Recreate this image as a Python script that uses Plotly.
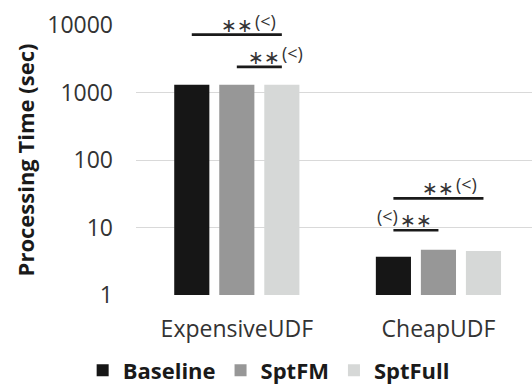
import math
import plotly.graph_objects as go

# Processing time per workload and execution strategy
categories = ["ExpensiveUDF", "CheapUDF"]
series_names = ["Baseline", "SptFM", "SptFull"]
baseline = [1300, 3.7]
sptfm = [1300, 4.7]
sptfull = [1300, 4.5]
series_values = [baseline, sptfm, sptfull]
colors = ["#161616", "#979797", "#d6d8d7"]

y_ticks = [1, 10, 100, 1000, 10000]
y_tick_labels = ["1", "10", "100", "1000", "10000"]

# Significance brackets: category, first bar, last bar, bracket height (sec)
bracket_cat = [0, 0, 1, 1]
bracket_from = [0, 1, 0, 0]
bracket_to = [2, 2, 2, 1]
bracket_level = [7200, 2400, 27, 9.1]
# star label centre (as bar-slot offset) and side of the "(<)" note
star_slot = [0.0, 0.6, 0.0, -0.5]
note_side = ["right", "right", "right", "left"]

BARGAP = 0.33
GROUPGAP = 0.22
slot = (1 - BARGAP) / len(series_names)

text_color = "#333333"
font_main = "Open Sans"

fig = go.Figure()
for name, vals, col in zip(series_names, series_values, colors):
    fig.add_trace(go.Bar(
        x=categories, y=vals, name=name,
        marker=dict(color=col, line=dict(width=0)),
    ))

shapes = []
annotations = []
for c, i0, i1, lvl, s, side in zip(bracket_cat, bracket_from, bracket_to,
                                   bracket_level, star_slot, note_side):
    x0 = c + (i0 - 1) * slot
    x1 = c + (i1 - 1) * slot
    # shapes take data values on a log axis, annotations take log10 values
    shapes.append(dict(type="line", xref="x", yref="y", x0=x0, x1=x1,
                       y0=lvl, y1=lvl, line=dict(color="#1a1a1a", width=2.7)))
    ly = math.log10(lvl)
    sx = c + s * slot
    annotations.append(dict(
        x=sx, y=ly, xref="x", yref="y", text="∗∗", showarrow=False,
        xanchor="center", yanchor="middle", yshift=10,
        font=dict(family="DejaVu Sans", size=19, color=text_color)))
    annotations.append(dict(
        x=sx, y=ly, xref="x", yref="y", text="(<)", showarrow=False,
        xanchor="left" if side == "right" else "right",
        xshift=16 if side == "right" else -16,
        yanchor="middle", yshift=14,
        font=dict(family=font_main, size=18, color=text_color)))

fig.update_layout(
    width=532, height=388,
    margin=dict(l=136, r=0, t=25, b=93),
    paper_bgcolor="white", plot_bgcolor="white",
    barmode="group", bargap=BARGAP, bargroupgap=GROUPGAP,
    font=dict(family=font_main, color=text_color),
    shapes=shapes, annotations=annotations,
    legend=dict(orientation="h", xref="container", x=0.505, xanchor="center",
                yref="container", y=0.045, yanchor="middle",
                font=dict(size=22, weight="bold", color="#1a1a1a"),
                itemwidth=30, traceorder="normal"),
)
fig.update_xaxes(
    range=[-0.5, 1.464], showgrid=False, showline=False, ticks="",
    tickfont=dict(size=23, color=text_color), ticklabelstandoff=18,
)
fig.update_yaxes(
    type="log", range=[0, 4], tickvals=y_ticks, ticktext=y_tick_labels,
    showgrid=True, gridcolor="#d9d9d9", gridwidth=1, showline=False,
    zeroline=False, ticks="", ticklabelstandoff=22,
    tickfont=dict(size=23, color=text_color),
    title=dict(text="Processing Time (sec)", standoff=6,
               font=dict(size=22, weight="bold", color="#1a1a1a")),
)

fig.write_html("out.html")
